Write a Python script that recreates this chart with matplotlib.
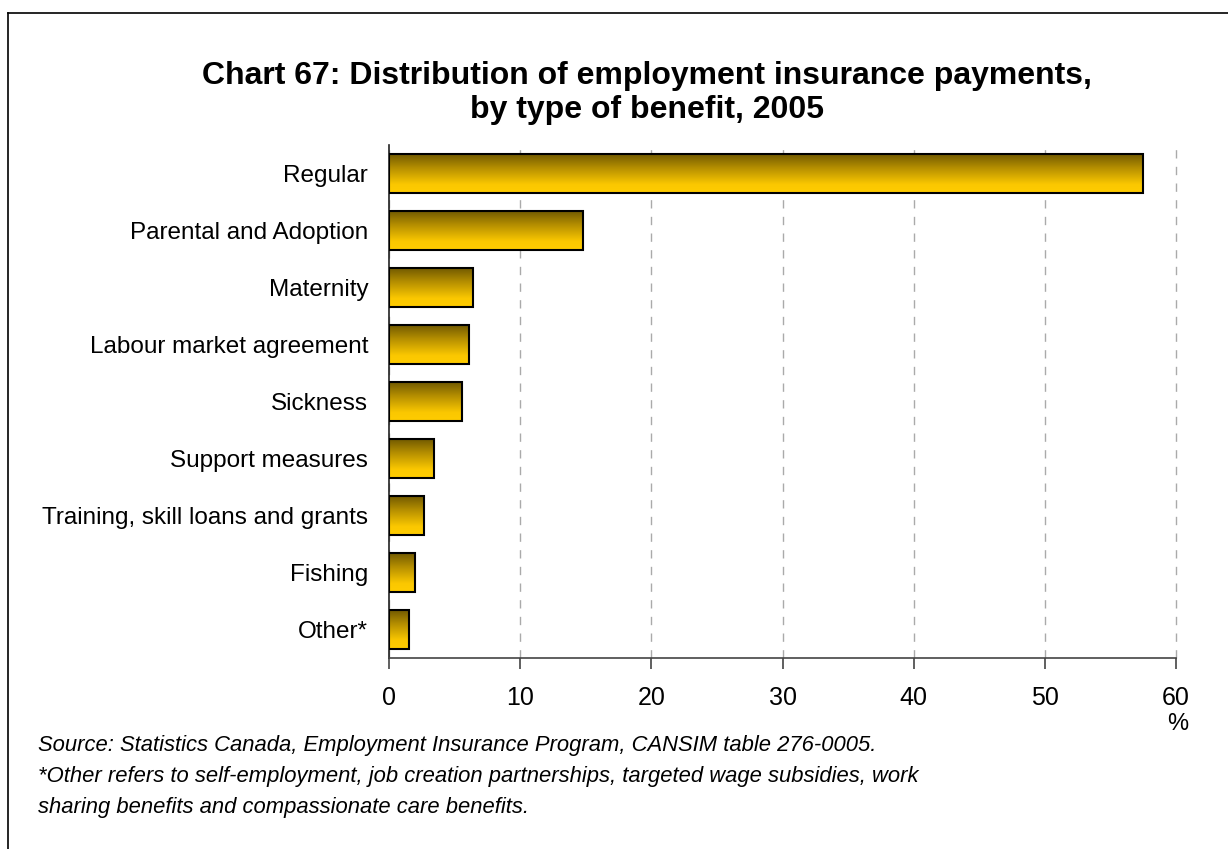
import numpy as np
import matplotlib
matplotlib.use("Agg")
import matplotlib.pyplot as plt
from matplotlib.colors import LinearSegmentedColormap
from matplotlib.lines import Line2D

plt.rcParams['font.family'] = ['Liberation Sans', 'DejaVu Sans']

categories = [
    "Regular",
    "Parental and Adoption",
    "Maternity",
    "Labour market agreement",
    "Sickness",
    "Support measures",
    "Training, skill loans and grants",
    "Fishing",
    "Other*",
]
shares = [57.5, 14.8, 6.4, 6.1, 5.6, 3.4, 2.7, 2.0, 1.5]
x_ticks = [0, 10, 20, 30, 40, 50, 60]

title = "Chart 67: Distribution of employment insurance payments,\nby type of benefit, 2005"
notes = [
    "Source: Statistics Canada, Employment Insurance Program, CANSIM table 276-0005.",
    "*Other refers to self-employment, job creation partnerships, targeted wage subsidies, work",
    "sharing benefits and compassionate care benefits.",
]

W, H = 1228, 849
fig = plt.figure(figsize=(W / 100, H / 100), dpi=100)
ax = fig.add_axes([389 / W, 1 - 658 / H, (1176 - 389) / W, (658 - 145) / H])

y = np.arange(len(categories))
bars = ax.barh(y, shares, height=0.68, color='none', edgecolor='black',
               linewidth=1.5, zorder=3)

# vertical gradient fill: dark olive at top, gold at bottom
grad_cmap = LinearSegmentedColormap.from_list(
    "gold", [(0.0, "#725a00"), (0.35, "#b48e00"), (0.78, "#fbc800"), (1.0, "#ffcc00")])
grad = np.linspace(0, 1, 256).reshape(-1, 1)
for b in bars:
    x0, y0, w, h = b.get_x(), b.get_y(), b.get_width(), b.get_height()
    # the y axis is inverted, so y0 is the upper edge on screen
    im = ax.imshow(grad, cmap=grad_cmap, aspect='auto', origin='upper',
                   extent=(x0, x0 + w, y0 + h, y0), zorder=2, interpolation='bilinear')
    im.set_clip_path(b)

ax.set_xlim(0, 60)
ax.set_ylim(len(categories) - 0.5, -0.5)
ax.set_xticks(x_ticks)
ax.set_xticklabels([str(t) for t in x_ticks], fontsize=18)
ax.set_yticks(y)
ax.set_yticklabels(categories, fontsize=17.5)
ax.tick_params(axis='y', length=0, pad=15)
ax.tick_params(axis='x', length=8, width=1.2, color='#444444', pad=12)

ax.grid(axis='x', linestyle=(0, (6, 6)), color='#aaaaaa', linewidth=1.0, zorder=0)
for gl in ax.get_xgridlines():
    gl.set_clip_on(False)
ax.set_axisbelow(True)
for s in ('top', 'right'):
    ax.spines[s].set_visible(False)
ax.spines['left'].set_color('#222222')
ax.spines['bottom'].set_color('#444444')
ax.spines['left'].set_linewidth(1.2)
ax.spines['bottom'].set_linewidth(1.2)

fig.text(647 / W, 1 - 93 / H, title, ha='center', va='center', fontsize=23,
         fontweight='bold', linespacing=1.15)
fig.text(1178 / W, 1 - 724 / H, "%", ha='center', va='center', fontsize=17)

for i, line in enumerate(notes):
    fig.text(38 / W, 1 - (746 + 30.5 * i) / H, line, ha='left', va='center',
             fontsize=15.8, style='italic')

# frame around the chart (left and top edges)
fig.add_artist(Line2D([8 / W, 8 / W], [0, 1 - 13 / H], color='black', linewidth=1.2,
                      transform=fig.transFigure))
fig.add_artist(Line2D([8 / W, 1], [1 - 13 / H, 1 - 13 / H], color='black', linewidth=1.2,
                      transform=fig.transFigure))

fig.savefig("out.png", dpi=100)
